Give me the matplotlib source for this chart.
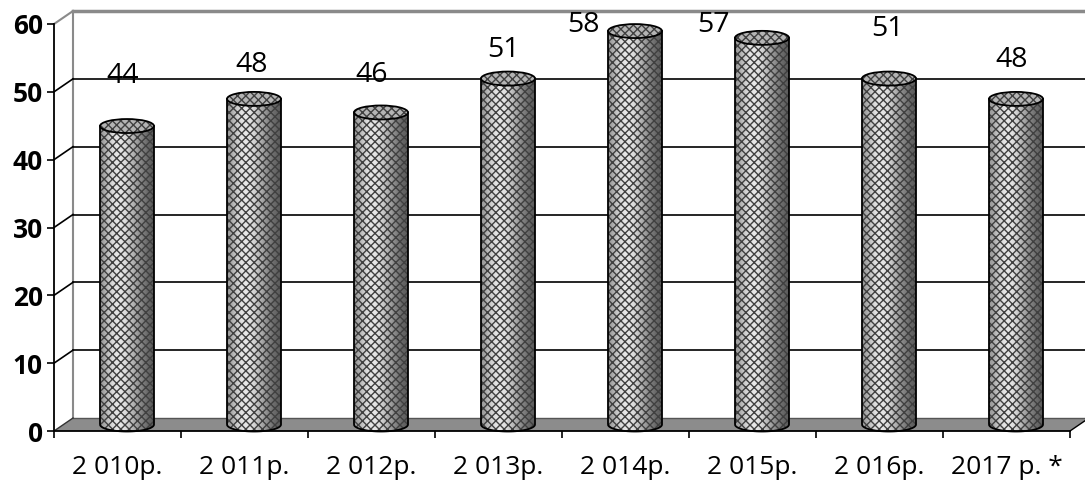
import numpy as np
import matplotlib.pyplot as plt
from matplotlib.patches import Polygon, PathPatch, Ellipse
from matplotlib.path import Path

# data
years = ["2 010р.", "2 011р.", "2 012р.", "2 013р.", "2 014р.", "2 015р.", "2 016р.", "2017 р. *"]
values = [44, 48, 46, 51, 58, 57, 51, 48]

# where each value label sits (x shift in categories, y in axis units)
label_dx = [0.04, 0.06, 0.0, 0.035, -0.33, -0.31, 0.06, 0.04]
label_y = [52.4, 53.9, 52.5, 56.1, 59.9, 59.9, 59.2, 54.7]

plt.rcParams['font.family'] = ['Open Sans', 'DejaVu Sans']
plt.rcParams['hatch.linewidth'] = 1.0

fig = plt.figure(figsize=(10.85, 4.82), dpi=100)
W, H = 1085, 482
ax = fig.add_axes([54 / W, (H - 431) / H, (1070 - 54) / W, (431 - 24) / H])
n = len(values)
ax.set_xlim(-0.5, n - 0.5)
ax.set_ylim(0, 60)

# depth offset of the back wall, in data units (19 px right, 13 px up)
p0 = ax.transData.transform((0, 0))
dx, dy = ax.transData.inverted().transform(p0 + np.array([19, 13]))

# floor
floor = Polygon([(-0.5, 0), (n - 0.5, 0), (n - 0.5 + dx, dy), (-0.5 + dx, dy)],
                closed=True, facecolor='#8c8c8c', edgecolor='none', zorder=1, clip_on=False)
ax.add_patch(floor)
ax.plot([-0.5 + dx, n - 0.5 + dx + 1], [dy, dy], color='#555555', lw=1, zorder=1.1, clip_on=False)
ax.plot([n - 0.5, n - 0.5 + dx], [0, dy], color='black', lw=1, zorder=1.1, clip_on=False)

# back wall frame and gridlines
ax.plot([-0.5 + dx, -0.5 + dx], [dy, 60 + dy], color='#8a8a8a', lw=1.5, zorder=1, clip_on=False)
ax.plot([-0.5 + dx, n + 1], [60 + dy, 60 + dy], color='#8a8a8a', lw=2.5, zorder=1, clip_on=False)
ax.plot([-0.5, -0.5 + dx], [60, 60 + dy], color='#8a8a8a', lw=1.5, zorder=1, clip_on=False)
for v in range(10, 60, 10):
    ax.plot([-0.5 + dx, n + 1], [v + dy, v + dy], color='black', lw=1.2, zorder=1, clip_on=False)
    ax.plot([-0.5, -0.5 + dx], [v, v + dy], color='black', lw=1.2, zorder=1, clip_on=False)
ax.plot([-0.5, -0.5 + dx], [0, dy], color='#333333', lw=1, zorder=1.1, clip_on=False)

# cylinders
w = 54 / 127.0
eh = 14 / ((431 - 24) / 60.0)
shade = np.array([[0.60, 0.76, 0.88, 0.91, 0.88, 0.78, 0.66, 0.54, 0.44, 0.36]])
t_low = np.linspace(0, -np.pi, 40)
for i, v in enumerate(values):
    xc = i + dx / 2
    yb = dy / 2
    xl, xr = xc - w / 2, xc + w / 2
    verts = [(xl, yb), (xl, yb + v), (xr, yb + v), (xr, yb)]
    verts += [(xc + w / 2 * np.cos(t), yb + eh / 2 * np.sin(t)) for t in t_low]
    verts.append((xl, yb))
    body = Path(verts)
    base = PathPatch(body, facecolor='none', edgecolor='none', zorder=3, clip_on=False)
    ax.add_patch(base)
    im = ax.imshow(shade, cmap='gray', vmin=0, vmax=1, aspect='auto',
                   extent=[xl, xr, yb - eh / 2, yb + v], interpolation='bicubic', zorder=3)
    im.set_clip_path(base)
    ax.add_patch(PathPatch(body, facecolor='none', edgecolor='#404040', hatch='xxxx',
                           lw=0, zorder=3.1, clip_on=False))
    ax.add_patch(PathPatch(body, facecolor='none', edgecolor='black', lw=1.3,
                           zorder=3.2, clip_on=False))
    top = Ellipse((xc, yb + v), w, eh, facecolor='#b4b4b4', edgecolor='none', zorder=3.3, clip_on=False)
    ax.add_patch(top)
    ax.add_patch(Ellipse((xc, yb + v), w, eh, facecolor='none', edgecolor='#404040',
                         hatch='xxxx', lw=0, zorder=3.4, clip_on=False))
    ax.add_patch(Ellipse((xc, yb + v), w, eh, facecolor='none', edgecolor='black',
                         lw=1.3, zorder=3.5, clip_on=False))
    ax.text(i + label_dx[i], label_y[i], str(v), ha='center', va='center',
            fontsize=20.5, color='black', zorder=5)

ax.set_xlim(-0.5, n - 0.5)
ax.set_ylim(0, 60)

# axes
for s in ['top', 'right']:
    ax.spines[s].set_visible(False)
ax.spines['left'].set_linewidth(1.3)
ax.spines['bottom'].set_linewidth(1.3)
ax.spines['left'].set_zorder(6)
ax.spines['bottom'].set_zorder(6)
ax.set_yticks(range(0, 61, 10))
ax.set_yticklabels([str(v) for v in range(0, 61, 10)], fontsize=19, fontweight='bold')
ax.tick_params(axis='y', direction='out', length=5, width=1.2, pad=3)
ax.set_xticks(range(n))
ax.set_xticklabels(years, fontsize=19)
ax.tick_params(axis='x', which='major', length=0, pad=17)
ax.set_xticks(np.arange(-0.5, n, 1.0), minor=True)
ax.tick_params(axis='x', which='minor', direction='out', length=5, width=1.2)
ax.patch.set_visible(False)

fig.savefig('out.png', dpi=100)
